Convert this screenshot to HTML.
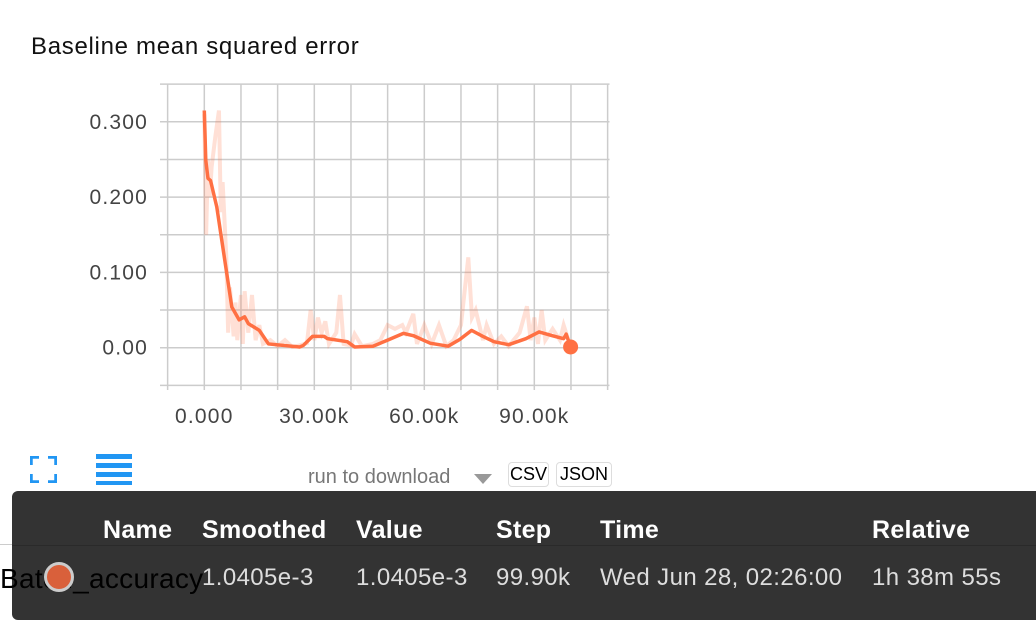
<!DOCTYPE html>
<html><head><meta charset="utf-8"><style>
body{margin:0;width:1036px;height:622px;background:#fff;overflow:hidden;position:relative;font-family:"Liberation Sans",sans-serif}
.abs{position:absolute}
</style></head><body>
<div class="abs" style="left:31px;top:33px;font-size:24px;letter-spacing:0.7px;color:#111">Baseline mean squared error</div>
<svg class="abs" style="left:0;top:0" width="1036" height="440" id="chart"></svg>
<div class="abs" style="left:30px;top:456px;width:27px;height:27px">
<svg width="27" height="27"><path d="M1 9V1h8M18 1h8v8M26 18v8h-8M9 26H1v-8" fill="none" stroke="#2196f3" stroke-width="3.5"/></svg></div>
<div class="abs" style="left:96px;top:454px;width:36px;height:32px">
<svg width="36" height="32"><rect y="0" width="36" height="5" fill="#2196f3"/><rect y="9" width="36" height="5" fill="#2196f3"/><rect y="18" width="36" height="5" fill="#2196f3"/><rect y="27" width="36" height="4" fill="#2196f3"/></svg></div>
<div class="abs" style="left:308px;top:464px;width:200px;height:38px;border-bottom:2px solid #222">
<span style="font-size:20px;color:#777;position:absolute;left:0;top:2px">run to download</span>
<svg style="position:absolute;left:166px;top:10px" width="18" height="10"><path d="M0 0H18L9 10Z" fill="#999"/></svg></div>
<div class="abs" style="left:508px;top:462px;width:39px;height:23px;border:1px solid #ddd;border-radius:4px;font-size:18px;text-align:center;line-height:23px">CSV</div>
<div class="abs" style="left:556px;top:462px;width:54px;height:23px;border:1px solid #ddd;border-radius:4px;font-size:18px;text-align:center;line-height:23px">JSON</div>
<div class="abs" style="left:0;top:544px;width:1036px;height:1px;background:#ccc"></div>
<div class="abs" style="left:12px;top:491px;width:1030px;height:129px;background:#333;border-radius:6px;color:#fff">
<div class="abs" style="left:0;top:54px;width:1030px;height:1px;background:#2a2a2a"></div>
<div class="abs" style="top:25px;font-size:25px;font-weight:bold;letter-spacing:0.3px;left:0;width:1030px">
<span class="abs" style="left:91px">Name</span><span class="abs" style="left:190px">Smoothed</span><span class="abs" style="left:344px">Value</span><span class="abs" style="left:484px">Step</span><span class="abs" style="left:588px">Time</span><span class="abs" style="left:860px">Relative</span></div>
<div class="abs" style="top:73px;font-size:24px;letter-spacing:0.4px;color:#ddd;left:0;width:1030px">
<span class="abs" style="left:190px">1.0405e-3</span><span class="abs" style="left:344px">1.0405e-3</span><span class="abs" style="left:484px">99.90k</span><span class="abs" style="left:588px">Wed Jun 28, 02:26:00</span><span class="abs" style="left:860px">1h 38m 55s</span></div>
</div>
<div class="abs" style="left:0;top:563px;font-size:28px;color:#000;letter-spacing:0.3px">Batch_accuracy</div>
<div class="abs" style="left:44px;top:562px;width:30px;height:30px;border-radius:50%;background:#d9603b;border:3px solid #ccc;box-sizing:border-box"></div>
<script>
const yTicks=[0.3,0.2,0.1,0.0];
const yTickLabels=["0.300","0.200","0.100","0.00"];
const xTicks=[0,30000,60000,90000];
const xTickLabels=["0.000","30.00k","60.00k","90.00k"];
const smoothSteps=[0,400,1000,1700,3400,7500,9500,11000,12000,15000,17500,26000,27000,29500,32700,33600,39000,41000,46000,50000,54300,57000,61600,66500,69700,72900,76000,79000,83000,87700,91300,94900,98000,98700,99900];
const smoothValues=[0.315,0.249,0.225,0.222,0.187,0.054,0.037,0.041,0.032,0.023,0.005,0.001,0.003,0.015,0.015,0.012,0.008,0.001,0.002,0.010,0.019,0.016,0.006,0.002,0.011,0.023,0.015,0.008,0.004,0.012,0.021,0.016,0.012,0.018,0.001];
const rawSteps=[0,500,1000,1500,2000,3000,4000,4500,5000,6000,6500,7000,8000,8500,9000,10000,10500,11000,12000,13000,14000,15000,16000,18000,20000,22000,24000,26000,28000,29000,30000,31000,32000,33000,34000,36000,37000,38000,40000,41000,43000,46000,48000,50000,52000,54000,55000,57000,58000,60000,62000,64000,66000,68000,70000,72000,73000,74000,76000,77000,79000,81000,83000,86000,88000,89000,90000,91000,92000,93000,95000,97000,98000,99900];
const rawValues=[0.31,0.15,0.25,0.2,0.24,0.28,0.315,0.18,0.22,0.12,0.02,0.08,0.015,0.06,0.01,0.07,0.005,0.075,0.02,0.07,0.01,0.03,0.005,0.01,0.002,0.01,0.001,0.003,0.006,0.05,0.01,0.04,0.02,0.035,0.005,0.02,0.07,0.005,0.003,0.018,0.002,0.005,0.01,0.03,0.025,0.03,0.02,0.045,0.005,0.03,0.005,0.03,0.002,0.01,0.03,0.12,0.04,0.05,0.01,0.03,0.005,0.015,0.002,0.02,0.055,0.01,0.04,0.005,0.05,0.01,0.025,0.01,0.03,0.001];
const NS='http://www.w3.org/2000/svg';
const svg=document.getElementById('chart');
const X=v=>204.3+v*(110/30000);
const Y=v=>347.7-v*753;
function mk(t,a,name){const e=document.createElementNS(NS,t);for(const k in a)e.setAttribute(k,a[k]);


svg.appendChild(e);return e;}
for(let i=-1;i<=11;i++){const x=X(i*10000);mk('line',{x1:x,x2:x,y1:84,y2:390,stroke:'#ccc','stroke-width':1.5},'x-gridline');}
for(let i=-0.05;i<=0.36;i+=0.05){const y=Y(i);mk('line',{x1:160,x2:609.5,y1:y,y2:y,stroke:'#ccc','stroke-width':1.5},'y-gridline');}
yTicks.forEach((v,i)=>{const t=mk('text',{x:148,y:Y(v)+7,'text-anchor':'end','font-size':21,'letter-spacing':1.2,fill:'#444','font-family':'Liberation Sans'},'y-tick-label');t.textContent=yTickLabels[i];});
xTicks.forEach((v,i)=>{const t=mk('text',{x:X(v),y:423,'text-anchor':'middle','font-size':21,'letter-spacing':1.2,fill:'#444','font-family':'Liberation Sans'},'x-tick-label');t.textContent=xTickLabels[i];});
mk('path',{d:rawSteps.map((s,i)=>(i?'L':'M')+X(s)+','+Y(rawValues[i])).join(''),fill:'none',stroke:'#ff7043','stroke-opacity':0.22,'stroke-width':4},'raw-series-line');
mk('path',{d:smoothSteps.map((s,i)=>(i?'L':'M')+X(s)+','+Y(smoothValues[i])).join(''),fill:'none',stroke:'#ff7043','stroke-width':3.5,'stroke-linejoin':'round'},'smoothed-series-line');
const n=smoothSteps.length-1;
mk('circle',{cx:X(smoothSteps[n]),cy:Y(smoothValues[n]),r:7.5,fill:'#ff7043'},'hover-point');
</script>
</body></html>
